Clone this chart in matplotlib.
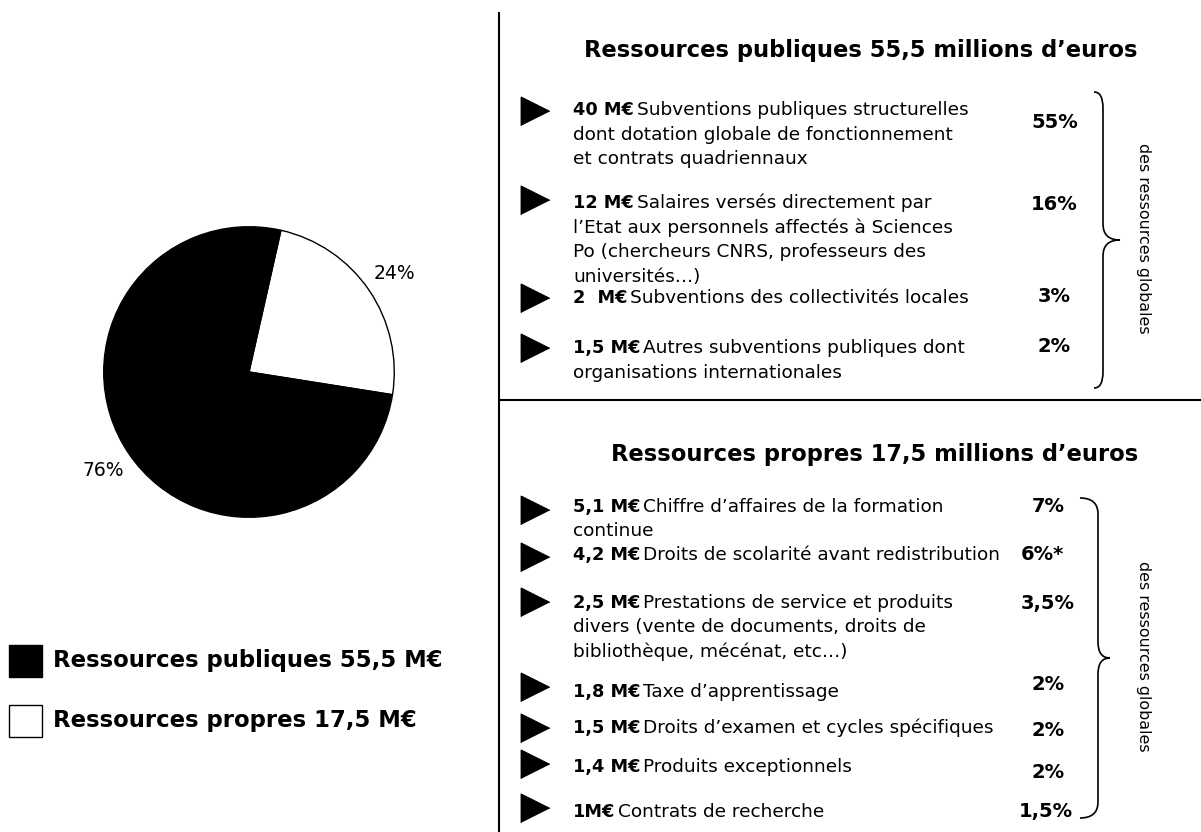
import matplotlib
matplotlib.use('Agg')
import matplotlib.pyplot as plt
from matplotlib.patches import Rectangle, PathPatch
from matplotlib.path import Path

plt.rcParams['font.family'] = ['DejaVu Sans']

W, H = 1201, 832

# --- data ---
PIE_LABELS = ['Ressources propres 17,5 M€', 'Ressources publiques 55,5 M€']
PIE_VALUES = [17.5, 55.5]
PIE_COLORS = ['white', 'black']

PUB_TITLE = "Ressources publiques 55,5 millions d’euros"
PUB_AMOUNTS = ['40 M€', '12 M€', '2  M€', '1,5 M€']
PUB_TEXTS = [
    ['Subventions publiques structurelles',
     'dont dotation globale de fonctionnement',
     'et contrats quadriennaux'],
    ['Salaires versés directement par',
     'l’Etat aux personnels affectés à Sciences',
     'Po (chercheurs CNRS, professeurs des',
     'universités…)'],
    ['Subventions des collectivités locales'],
    ['Autres subventions publiques dont',
     'organisations internationales'],
]
PUB_SHARES = [55, 16, 3, 2]
PUB_NOTES = ['', '', '', '']

PRO_TITLE = "Ressources propres 17,5 millions d’euros"
PRO_AMOUNTS = ['5,1 M€', '4,2 M€', '2,5 M€', '1,8 M€', '1,5 M€', '1,4 M€', '1M€']
PRO_TEXTS = [
    ['Chiffre d’affaires de la formation', 'continue'],
    ['Droits de scolarité avant redistribution'],
    ['Prestations de service et produits',
     'divers (vente de documents, droits de',
     'bibliothèque, mécénat, etc…)'],
    ['Taxe d’apprentissage'],
    ['Droits d’examen et cycles spécifiques'],
    ['Produits exceptionnels'],
    ['Contrats de recherche'],
]
PRO_SHARES = [7, 6, 3.5, 2, 2, 2, 1.5]
PRO_NOTES = ['', '*', '', '', '', '', '']

SIDE_NOTE = 'des ressources globales'

# --- layout (pixel rows) ---
PUB_BULLET_Y = [111, 200, 298, 348]
PUB_TEXT_Y = [110, 203, 298, 348]
PUB_SHARE_Y = [123, 205, 297, 347]
PUB_SHARE_X = [1055, 1054, 1054, 1054]
PRO_BULLET_Y = [510, 557, 602, 687, 728, 764, 808]
PRO_TEXT_Y = [507, 555, 603, 692, 728, 767, 812]
PRO_SHARE_Y = [507, 555, 603, 685, 730, 772, 812]
PRO_SHARE_X = [1048, 1042, 1048, 1048, 1048, 1048, 1046]
LINE_GAP = 24.5


def fmt_share(v, note):
    return f"{v:g}".replace('.', ',') + '%' + note


def brace(ax, x_left, x_v, x_tip, y0, y1, r=16):
    ym = (y0 + y1) / 2
    verts = [(x_left, y0), (x_v, y0), (x_v, y0 + r),
             (x_v, ym - r), (x_v, ym), (x_tip, ym),
             (x_v, ym), (x_v, ym + r),
             (x_v, y1 - r), (x_v, y1), (x_left, y1)]
    codes = [Path.MOVETO, Path.CURVE3, Path.CURVE3,
             Path.LINETO, Path.CURVE3, Path.CURVE3,
             Path.CURVE3, Path.CURVE3,
             Path.LINETO, Path.CURVE3, Path.CURVE3]
    ax.add_patch(PathPatch(Path(verts, codes), fill=False, lw=1.2,
                           edgecolor='black'))


fig = plt.figure(figsize=(W / 100, H / 100), dpi=100)
fig.patch.set_facecolor('white')

# pie
cx, cy, rad = 249, 372, 146
pax = fig.add_axes([(cx - rad) / W, (H - cy - rad) / H, 2 * rad / W, 2 * rad / H])
wedges, _, autotexts = pax.pie(
    PIE_VALUES, colors=PIE_COLORS, startangle=-9, counterclock=True,
    autopct='%1.0f%%', pctdistance=1.21,
    wedgeprops=dict(edgecolor='black', linewidth=1.0),
    textprops=dict(fontsize=13.5, color='black'))
for t in autotexts:
    t.set_clip_on(False)
pax.set_xlim(-1.005, 1.005)
pax.set_ylim(-1.005, 1.005)
pax.set_aspect('equal')
pax.axis('off')

# overlay in pixel coordinates
ax = fig.add_axes([0, 0, 1, 1])
ax.set_xlim(0, W)
ax.set_ylim(H, 0)
ax.axis('off')

# frame lines
ax.plot([499, 499], [13, H], color='black', lw=1.5)
ax.plot([499, W], [400, 400], color='black', lw=1.5)

# legend
for (lab, col), y in zip(zip(PIE_LABELS[::-1], PIE_COLORS[::-1]), [661, 721]):
    ax.add_patch(Rectangle((9, y - 16), 33, 32, facecolor=col,
                           edgecolor='black', lw=1.0))
    ax.text(53, y, lab, fontsize=16.4, fontweight='bold', ha='left', va='center')

renderer = fig.canvas.get_renderer()
inv = ax.transData.inverted()


def section(title, title_y, amounts, texts, shares, notes,
            bullet_y, text_y, share_y, share_x):
    ax.text(1138, title_y, title, fontsize=16.3, fontweight='bold',
            ha='right', va='center')
    ax.scatter([535] * len(bullet_y), bullet_y, s=420, color='black',
               marker=[(-1, -1), (-1, 1), (1, 0)], zorder=3)
    for amt, lines, ty in zip(amounts, texts, text_y):
        t = ax.text(573, ty, amt, fontsize=12.8, fontweight='bold',
                    ha='left', va='center')
        bb = t.get_window_extent(renderer)
        x_end = inv.transform((bb.x1, bb.y0))[0]
        ax.text(x_end + 3, ty, lines[0], fontsize=13.3, ha='left', va='center')
        for i, ln in enumerate(lines[1:], start=1):
            ax.text(573, ty + i * LINE_GAP, ln, fontsize=13.3,
                    ha='left', va='center')
    for v, n, sx, sy in zip(shares, notes, share_x, share_y):
        ax.text(sx, sy, fmt_share(v, n), fontsize=14, fontweight='bold',
                ha='center', va='center')


section(PUB_TITLE, 50, PUB_AMOUNTS, PUB_TEXTS, PUB_SHARES, PUB_NOTES,
        PUB_BULLET_Y, PUB_TEXT_Y, PUB_SHARE_Y, PUB_SHARE_X)
section(PRO_TITLE, 455, PRO_AMOUNTS, PRO_TEXTS, PRO_SHARES, PRO_NOTES,
        PRO_BULLET_Y, PRO_TEXT_Y, PRO_SHARE_Y, PRO_SHARE_X)

brace(ax, 1094, 1103, 1120, 92, 388)
brace(ax, 1080, 1098, 1110, 498, 818)

ax.text(1143, 238, SIDE_NOTE, fontsize=11.4, rotation=-90,
        ha='center', va='center')
ax.text(1143, 656, SIDE_NOTE, fontsize=11.4, rotation=-90,
        ha='center', va='center')

fig.savefig('out.png', dpi=100, facecolor='white')
